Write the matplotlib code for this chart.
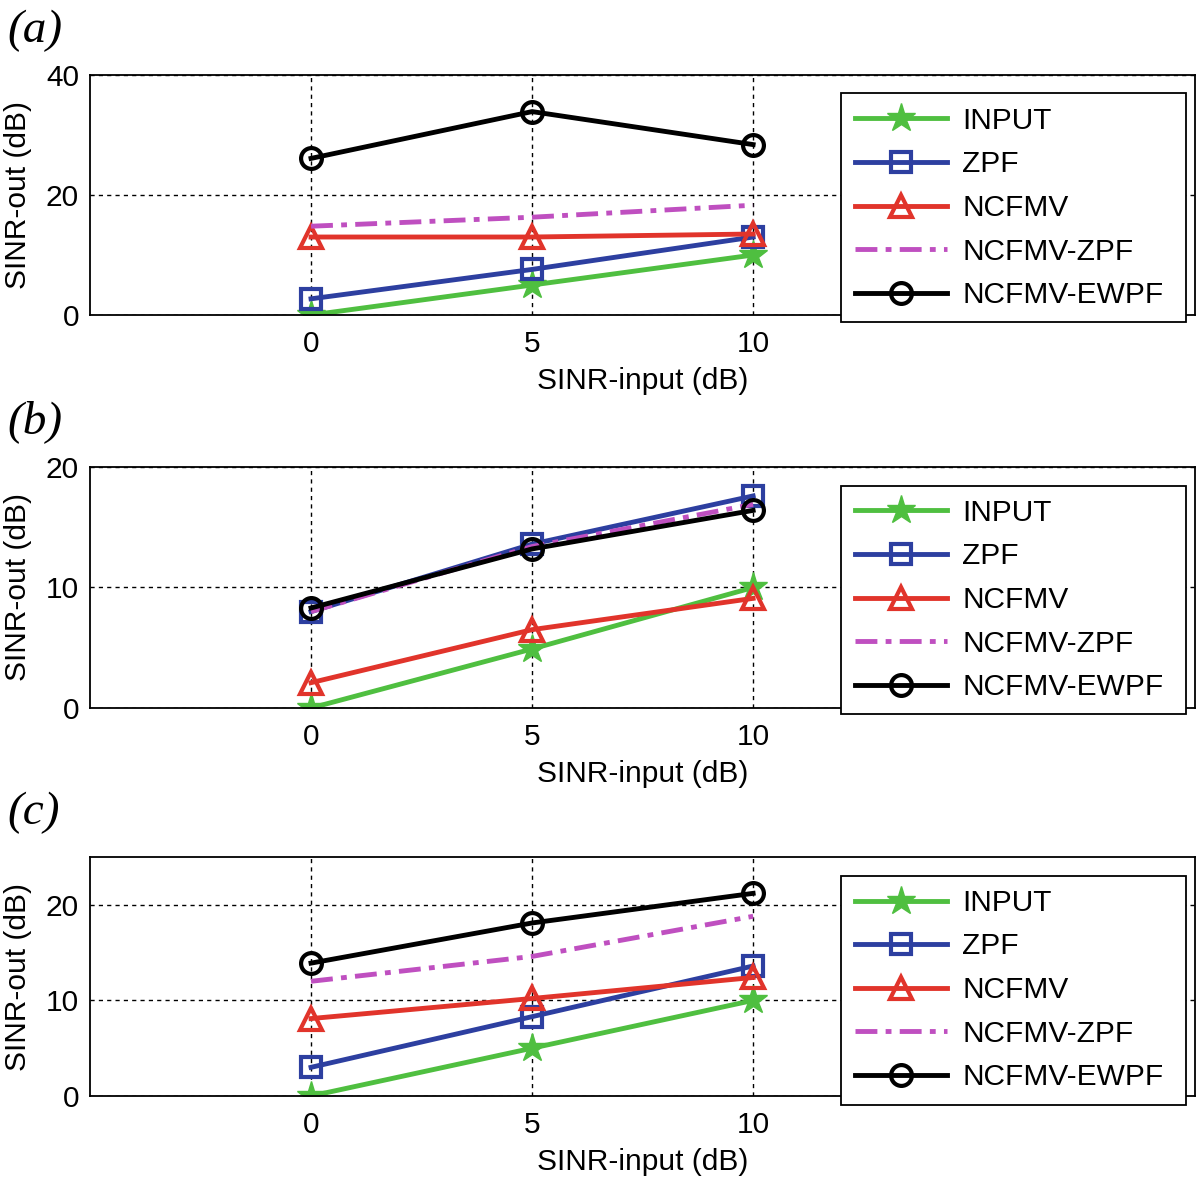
import matplotlib
matplotlib.use('Agg')
import matplotlib.pyplot as plt

# SINR input levels (dB)
sinr_in = [0, 5, 10]

# panel (a)
a_input = [0, 5, 10]
a_zpf = [2.7, 7.6, 13.0]
a_ncfmv = [13.0, 13.0, 13.5]
a_ncfmv_zpf = [14.8, 16.3, 18.3]
a_ewpf = [26.1, 33.9, 28.4]

# panel (b)
b_input = [0, 4.9, 10.0]
b_zpf = [8.0, 13.6, 17.6]
b_ncfmv = [2.1, 6.5, 9.1]
b_ncfmv_zpf = [8.0, 13.4, 16.9]
b_ewpf = [8.3, 13.2, 16.4]

# panel (c)
c_input = [0, 5, 10]
c_zpf = [3.0, 8.3, 13.6]
c_ncfmv = [8.1, 10.2, 12.4]
c_ncfmv_zpf = [12.0, 14.6, 18.8]
c_ewpf = [13.9, 18.1, 21.2]

labels = ['INPUT', 'ZPF', 'NCFMV', 'NCFMV-ZPF', 'NCFMV-EWPF']
panel_names = ['(a)', '(b)', '(c)']
ylims = [(0, 40), (0, 20), (0, 25)]
yticks = [[0, 20, 40], [0, 10, 20], [0, 10, 20]]

panels = [
    [a_input, a_zpf, a_ncfmv, a_ncfmv_zpf, a_ewpf],
    [b_input, b_zpf, b_ncfmv, b_ncfmv_zpf, b_ewpf],
    [c_input, c_zpf, c_ncfmv, c_ncfmv_zpf, c_ewpf],
]

green = '#4fbf40'
blue = '#2d3fa0'
red = '#e1342b'
magenta = '#bf4fc0'

styles = [
    dict(color=green, marker='*', ms=21, mfc=green, mec=green, ls='-'),
    dict(color=blue, marker='s', ms=14, mfc='none', mec=blue, mew=3, ls='-'),
    dict(color=red, marker='^', ms=16, mfc='none', mec=red, mew=3, ls='-'),
    dict(color=magenta, marker=None, ls=(0, (4.5, 1.7, 1.2, 1.7))),
    dict(color='black', marker='o', ms=15, mfc='none', mec='black', mew=3, ls='-'),
]

plt.rcParams['font.family'] = ['Liberation Sans', 'DejaVu Sans']

fig = plt.figure(figsize=(12, 11.79), dpi=100)

# axes boxes in figure fractions (left, bottom, width, height)
boxes = [
    (0.075, 0.7328, 0.921, 0.2036),
    (0.075, 0.3995, 0.921, 0.2044),
    (0.075, 0.0704, 0.921, 0.2027),
]
label_y = [0.974, 0.642, 0.311]

for i, box in enumerate(boxes):
    ax = fig.add_axes(box)
    for series, lab, st in zip(panels[i], labels, styles):
        ax.plot(sinr_in, series, lw=3.5, label=lab, **st)
    ax.set_xlim(-5, 20)
    ax.set_ylim(*ylims[i])
    ax.set_xticks([0, 5, 10])
    ax.set_yticks(yticks[i])
    ax.grid(True, color='black', lw=1, ls=(0, (3, 3)))
    ax.tick_params(direction='in', length=0, labelsize=21.5, pad=8)
    ax.tick_params(axis='x', pad=11)
    for sp in ax.spines.values():
        sp.set_linewidth(1.3)
    ax.set_xlabel('SINR-input (dB)', fontsize=21.5, labelpad=6)
    ax.set_ylabel('SINR-out (dB)', fontsize=21.5, labelpad=10)
    leg = ax.legend(loc='upper left',
                    bbox_to_anchor=(0.701,
                                    box[1] + box[3] - 0.0155 - 0.0102, 0.287, 0.01),
                    bbox_transform=fig.transFigure, mode='expand',
                    fontsize=21.5, handlelength=3.1, handletextpad=0.5,
                    labelspacing=0.52, borderpad=0.45, fancybox=False,
                    framealpha=1, edgecolor='black', borderaxespad=0)
    leg.get_frame().set_linewidth(1.3)
    fig.text(0.006, label_y[i], panel_names[i], fontsize=34, style='italic',
             family=['Liberation Serif', 'DejaVu Serif'], va='center', ha='left')

fig.savefig('out.png', dpi=100)
